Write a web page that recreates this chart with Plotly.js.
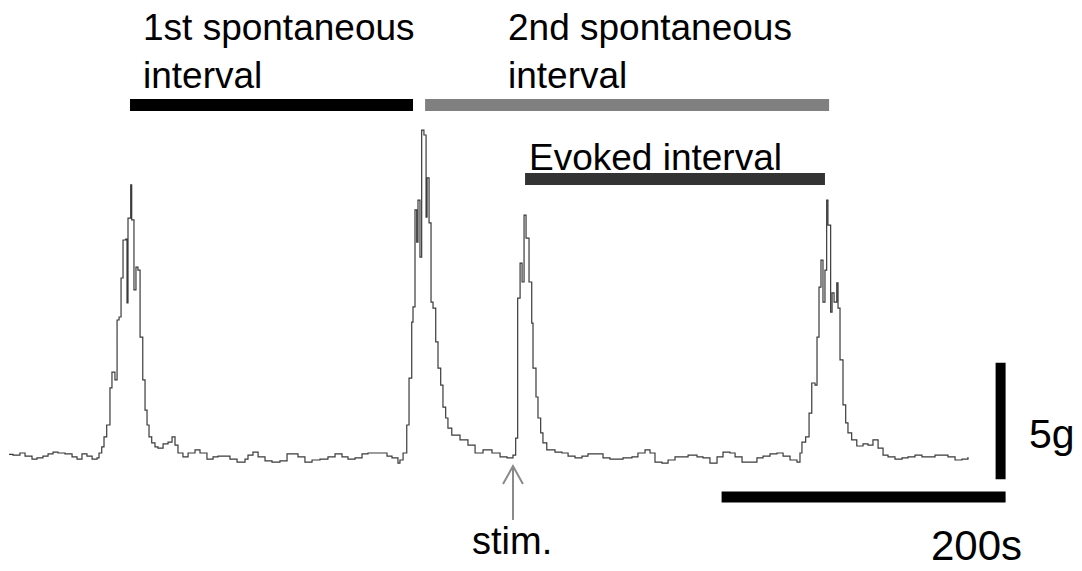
<!DOCTYPE html>
<html>
<head>
<meta charset="utf-8">
<script src="https://cdn.plot.ly/plotly-3.0.1.min.js"></script>
<style>
  html, body { margin: 0; padding: 0; background: #fff; }
  #chart { width: 1082px; height: 571px; }
</style>
</head>
<body>
<div id="chart"></div>
<script>
// Contraction force trace: time in seconds, force in grams above resting baseline.
const timeS = [
  0, 2.8, 7.7, 11.3, 16.2, 19.7, 23.9, 27.5, 31.0, 34.5, 39.4, 44.4, 47.9, 51.4, 54.9, 58.5, 62.0,
  63.4, 65.3, 66.9, 68.8, 71.1, 72.5, 74.6, 76.1, 77.5, 78.9, 80.3, 82.2, 83.1, 83.8, 85.7, 86.4,
  88.0, 89.4, 90.8, 92.3, 94.2, 95.8, 97.2, 98.6, 100.5, 102.8, 104.9,
  108.5, 112.0, 114.8, 116.9, 119.0, 122.5, 126.1, 131.0, 134.5, 139.4, 143.7, 147.2, 152.1, 155.6,
  160.6, 166.2, 168.3, 171.8, 175.4, 180.3, 185.2, 190.8, 195.8, 199.3, 203.5, 208.4, 213.4, 219.0,
  224.6, 229.6, 234.5, 238.7, 243.7, 248.6, 252.8, 257.7, 262.7, 266.2, 269.7, 273.9,
  275.3, 277.5, 280.1, 281.7, 283.6, 284.5, 285.9, 287.1, 288.0, 289.4, 290.6, 292.2, 293.7, 294.4,
  295.8, 297.2, 298.6, 300.5, 302.1, 304.0, 305.6, 307.5, 309.1, 311.8,
  317.6, 323.2, 328.2, 333.8, 340.1, 345.8, 350.7, 354.9,
  356.8, 358.2, 359.9, 361.3, 362.7, 364.1, 366.2, 368.1, 369.0, 371.1, 372.5, 374.4, 376.0, 378.7,
  384.5, 389.4, 393.7, 398.6, 403.5, 407.7, 414.1, 418.3, 423.2, 428.2, 432.4, 438.7, 442.9, 447.9,
  451.4, 454.9, 459.8, 464.1, 469.0, 473.9, 478.2, 484.5, 488.7, 493.6, 498.6, 502.8, 507.7, 511.3,
  516.2, 520.4, 526.7, 531.0, 535.9, 540.8, 545.1, 550.0, 554.9,
  557.0, 558.4, 561.0, 563.4, 565.3, 567.6, 569.0, 570.4, 571.8, 573.2, 574.6, 575.8, 576.7, 578.6,
  579.6, 581.0, 582.9, 583.8, 585.2, 587.3, 589.2, 590.8, 593.4,
  597.0, 601.4, 604.9, 608.4, 612.0, 615.5, 619.0, 623.9, 628.9, 633.1, 638.0, 642.9, 647.2, 652.1,
  657.0, 661.2, 666.2, 671.1, 675.3
];
const forceG = [
  0.24, 0.21, 0.30, 0.17, 0.04, 0.09, 0.17, 0.26, 0.34, 0.30, 0.26, 0.13, 0.04, 0.26, 0.17, 0.04, 0.09,
  0.30, 0.56, 0.99, 1.50, 3.09, 3.77, 3.43, 6.00, 6.13, 7.80, 9.43, 9.47, 6.73, 10.37, 11.79, 10.29,
  7.29, 8.27, 8.14, 5.27, 3.43, 2.14, 1.50, 0.99, 0.73, 0.56, 0.51,
  0.69, 0.77, 0.99, 0.64, 0.30, 0.13, 0.30, 0.43, 0.30, 0.04, 0.13, 0.17, 0.17, 0.04,
  -0.09, 0.04, 0.21, 0.34, 0.13, -0.04, -0.09, -0.04, 0.26, 0.26, 0.13, -0.09, 0.00, 0.04,
  0.13, 0.26, 0.13, 0.04, 0.09, 0.26, 0.30, 0.30, 0.30, 0.17, 0.09, -0.13,
  0.00, 0.30, 1.50, 3.51, 5.91, 6.56, 10.72, 9.34, 11.14, 8.70, 14.14, 13.93, 10.41, 12.09,
  10.16, 6.77, 6.51, 5.06, 3.94, 3.21, 2.27, 1.80, 1.37, 1.07,
  0.86, 0.64, 0.30, 0.43, 0.30, 0.13, 0.09, 0.21,
  0.94, 6.94, 8.44, 7.63, 10.50, 9.51, 7.63, 5.87, 3.94, 2.70, 1.80, 1.16, 0.73, 0.43,
  0.34, 0.30, 0.17, 0.09, 0.17, 0.26, 0.26, 0.09, 0.04, 0.04, 0.09, 0.13, 0.30, 0.43,
  0.30, -0.09, -0.13, 0.00, 0.13, 0.13, 0.21, 0.13, 0.09, -0.13, 0.13, 0.34, 0.30, 0.13,
  -0.09, -0.09, 0.09, 0.17, 0.26, 0.30, 0.17, 0.00, -0.09,
  0.30, 0.77, 0.99, 2.01, 3.30, 3.21, 5.27, 7.41, 8.57, 6.77, 8.14, 11.14, 10.07, 6.34,
  7.16, 6.77, 7.59, 6.51, 4.29, 2.36, 1.59, 1.16, 0.86,
  0.60, 0.69, 0.64, 0.86, 0.51, 0.21, 0.13, 0.04, 0.09, 0.13, 0.21, 0.13, 0.13, 0.21,
  0.21, 0.13, 0.00, 0.04, 0.13
];

// Interval markers (seconds) and their labels
const intervalLabels = ["1st spontaneous<br>interval", "2nd spontaneous<br>interval", "Evoked interval"];
const intervalStart = [85.2, 293.0, 363.4];
const intervalEnd = [284.5, 577.5, 574.6];
const intervalColors = ["#000000", "#808080", "#333333"];

// Stimulus time and scale bars
const stimTime = 354.9;
const stimLabel = "stim.";
const scaleTimeS = 200;
const scaleForceG = 5;
const scaleTimeLabel = "200s";
const scaleForceLabel = "5g";

const W = 1082, H = 571;
const FONT = "Liberation Sans, Arial, sans-serif";

// axis ranges chosen so 1 s = 1.42 px and 1 g = 23.33 px
const xRange = [-6.34, 755.6];
const yRange = [-4.758, 19.717];

const px = x => x / W;
const py = y => 1 - y / H;

const trace = {
  x: timeS,
  y: forceG,
  type: "scatter",
  mode: "lines",
  line: { color: "#3a3a3a", width: 1.2, shape: "hv" },
  hoverinfo: "skip"
};

const shapes = [];
// interval bars (two rows)
const barY = [15.22, 15.22, 12.04];
for (let i = 0; i < intervalStart.length; i++) {
  shapes.push({
    type: "line", xref: "x", yref: "y",
    x0: intervalStart[i], x1: intervalEnd[i], y0: barY[i], y1: barY[i],
    line: { color: intervalColors[i], width: 12 }
  });
}

// scale bars
const sbEnd = 701.8;
const sbY = -1.59;
shapes.push({
  type: "line", xref: "x", yref: "y",
  x0: sbEnd - scaleTimeS, x1: sbEnd, y0: sbY, y1: sbY,
  line: { color: "#000", width: 11 }
});
const vbX = sbEnd - 5 / 1.42;
const vbBottom = -0.83;
shapes.push({
  type: "line", xref: "x", yref: "y",
  x0: vbX, x1: vbX, y0: vbBottom, y1: vbBottom + scaleForceG,
  line: { color: "#000", width: 10 }
});

// stimulus arrow (open head)
const tipG = -0.26, wingG = -1.03, tailG = -2.57, wingDx = 7.0;
shapes.push({
  type: "line", xref: "x", yref: "y",
  x0: stimTime, x1: stimTime, y0: tipG, y1: tailG,
  line: { color: "#8a8a8a", width: 2 }
});
shapes.push({
  type: "path", xref: "x", yref: "y",
  path: `M ${stimTime - wingDx},${wingG} L ${stimTime},${tipG} L ${stimTime + wingDx},${wingG}`,
  line: { color: "#8a8a8a", width: 2 }
});

const txt = (text, x, y, size) => ({
  text, xref: "paper", yref: "paper", x: px(x), y: py(y),
  xanchor: "left", yanchor: "top", align: "left", showarrow: false,
  font: { family: FONT, size, color: "#000" }
});

const annotations = [
  txt(intervalLabels[0], 141, 5, 37),
  txt(intervalLabels[1], 506, 5, 37),
  txt(intervalLabels[2], 527, 135, 37),
  txt(stimLabel, 470, 518, 38),
  txt(scaleForceLabel, 1027, 409, 41),
  txt(scaleTimeLabel, 929, 520, 42)
];

const layout = {
  width: W, height: H,
  margin: { l: 0, r: 0, t: 0, b: 0 },
  paper_bgcolor: "#fff", plot_bgcolor: "#fff",
  showlegend: false,
  xaxis: { range: xRange, visible: false, fixedrange: true },
  yaxis: { range: yRange, visible: false, fixedrange: true },
  shapes, annotations
};

Plotly.newPlot("chart", [trace], layout, { displayModeBar: false, staticPlot: true });
</script>
</body>
</html>
